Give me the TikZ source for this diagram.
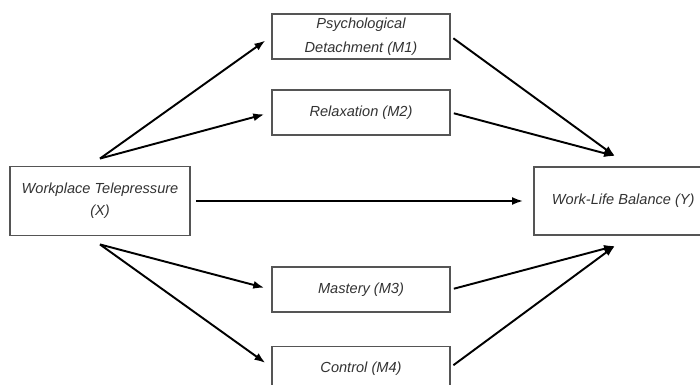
\documentclass[tikz,border=0pt]{standalone}
\usepackage{fontspec}
\setmainfont{Liberation Sans}
\usepackage{xcolor}
\usetikzlibrary{arrows.meta}

\definecolor{boxline}{HTML}{555555}
\definecolor{boxtext}{HTML}{333333}

\tikzset{
  varbox/.style={draw=boxline, line width=1.1pt, fill=white, align=center,
    text=boxtext, font=\fontsize{8.3}{12.5}\selectfont\itshape, inner sep=0pt},
  path arrow/.style={->, line width=1.1pt, black}
}

\begin{document}
\begin{tikzpicture}[>={Latex[length=2.2mm, width=1.6mm]}, x=0.02cm, y=-0.02cm]
  \clip (0,0) rectangle (700,385);
  \fill[white] (0,0) rectangle (700,385);
  % variables
  \node[varbox, minimum width=3.6cm, minimum height=1.38cm] (X) at (100,201)
    {Workplace Telepressure\\(X)};
  \node[varbox, minimum width=3.72cm, minimum height=1.36cm] (Y) at (627,201)
    {\hspace*{-0.05cm}Work-Life Balance (Y)\hspace*{0.1cm}};
  \node[varbox, minimum width=3.56cm, minimum height=0.9cm] (M1) at (361,36.5)
    {Psychological\\[1pt]Detachment (M1)};
  \node[varbox, minimum width=3.56cm, minimum height=0.9cm] (M2) at (361,112.5)
    {Relaxation (M2)};
  \node[varbox, minimum width=3.56cm, minimum height=0.9cm] (M3) at (361,289.5)
    {Mastery (M3)};
  \node[varbox, minimum width=3.56cm, minimum height=0.9cm] (M4) at (361,369)
    {\raisebox{2pt}{Control (M4)}};
  % arrow end points
  \coordinate (Xt) at ([yshift=0.14cm]X.north);
  \coordinate (Xb) at ([yshift=-0.16cm]X.south);
  \coordinate (Yt) at ([xshift=-0.24cm, yshift=0.2cm]Y.north);
  \coordinate (Yb) at ([xshift=-0.24cm, yshift=-0.2cm]Y.south);
  % paths
  \draw[path arrow, shorten >=0.14cm] (Xt) -- (M1.west);
  \draw[path arrow, shorten >=0.14cm] (Xt) -- (M2.west);
  \draw[path arrow, shorten >=0.14cm] (Xb) -- (M3.west);
  \draw[path arrow, shorten >=0.14cm] (Xb) -- ([yshift=0.04cm]M4.west);
  \draw[path arrow, shorten <=0.06cm] (M1.east) -- (Yt);
  \draw[path arrow, shorten <=0.06cm] (M2.east) -- (Yt);
  \draw[path arrow, shorten <=0.06cm] (M3.east) -- (Yb);
  \draw[path arrow, shorten <=0.06cm] ([yshift=0.04cm]M4.east) -- (Yb);
  \draw[path arrow, shorten <=0.1cm, shorten >=0.2cm] (X.east) -- (Y.west);
\end{tikzpicture}
\end{document}
